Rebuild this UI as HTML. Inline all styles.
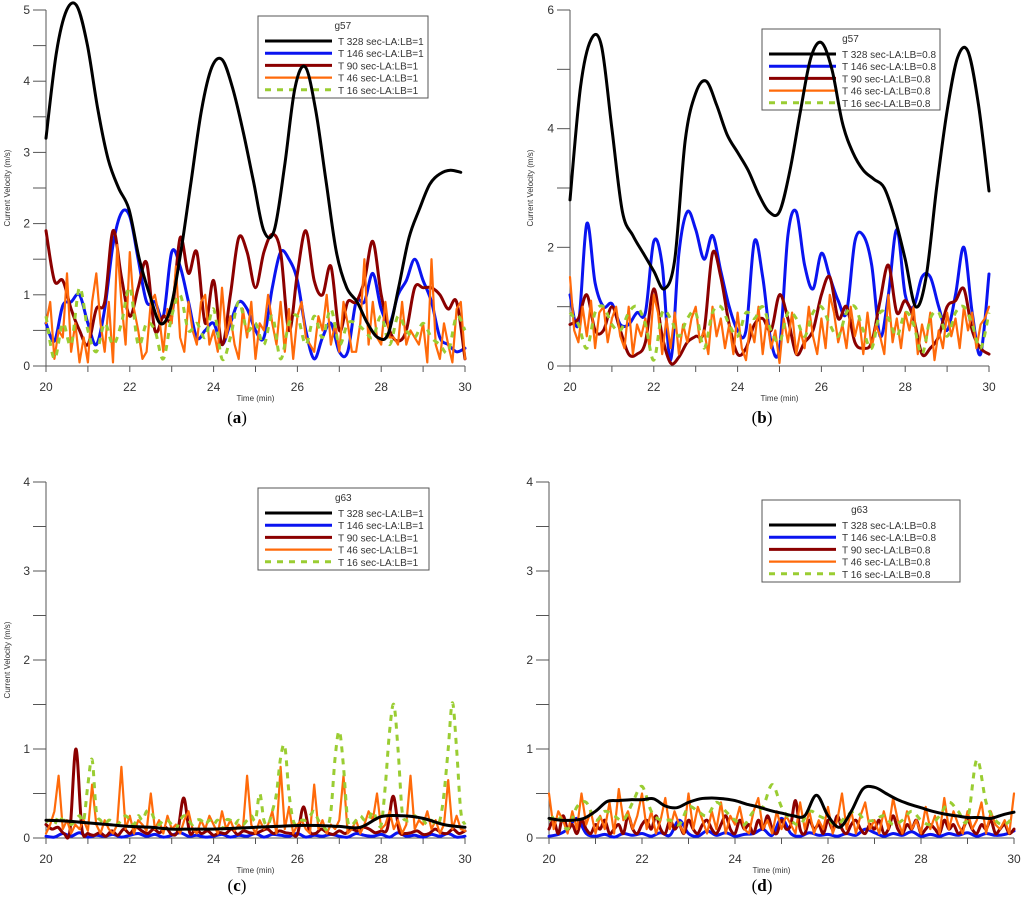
<!DOCTYPE html>
<html><head><meta charset="utf-8"><style>
html,body{margin:0;padding:0;background:#fff;}
svg{display:block;font-family:"Liberation Sans",sans-serif;}
</style></head><body>
<svg id="fig" width="1024" height="907" viewBox="0 0 1024 907"></svg>
<script>
// ---------- DATA ----------
const xTickLabels = [20, 22, 24, 26, 28, 30];
const seriesNames = ["T 328 sec", "T 146 sec", "T 90 sec", "T 46 sec", "T 16 sec"];

// Panel (a) g57 LA:LB=1
const aBlack = [3.2,4.4,5.0,5.05,4.5,3.6,2.9,2.5,2.2,1.5,1.0,0.6,0.8,1.6,2.6,3.6,4.2,4.3,3.9,3.3,2.6,1.9,1.9,2.8,3.9,4.2,3.6,2.6,1.6,1.1,0.9,0.6,0.4,0.45,1.1,1.8,2.2,2.55,2.7,2.75,2.72];
const aBlue = [0.6,0.35,0.85,0.9,1.0,0.6,0.3,0.8,1.7,2.15,2.1,1.5,0.9,0.9,0.7,1.6,1.4,0.9,0.4,0.5,0.6,0.3,0.6,0.9,0.8,0.5,0.4,1.1,1.6,1.5,1.2,0.5,0.1,0.4,0.6,0.2,0.2,0.9,0.9,1.3,0.8,0.6,1.0,1.2,1.5,1.2,0.9,0.4,0.3,0.2,0.25];
const aRed = [1.9,1.2,1.2,0.8,0.5,0.3,0.8,0.9,1.9,1.25,0.7,1.1,1.45,0.5,0.7,0.7,1.8,1.3,1.6,0.6,1.2,0.3,1.0,1.8,1.6,1.1,1.6,1.85,1.6,0.5,1.3,1.9,1.2,1.0,1.4,0.5,0.9,0.9,1.2,1.75,1.0,0.5,0.35,0.5,1.1,1.1,1.1,1.0,0.8,0.9,0.1];
const aOrange = [0.6,0.9,0.1,0.5,0.4,1.3,0.2,0.6,0.05,0.4,0.05,0.9,1.3,0.6,0.2,0.9,0.05,1.7,0.9,0.3,1.6,0.8,0.5,0.1,0.2,0.9,1.0,0.7,0.2,0.8,0.6,1.4,0.4,0.2,0.9,0.5,0.3,0.9,1.0,0.3,0.5,0.2,1.1,0.4,0.7,0.3,0.1,0.8,0.4,0.9,0.1,0.6,0.5,1.0,0.6,0.3,0.9,0.2,0.8,0.1,0.7,0.9,0.4,0.3,0.2,0.7,0.5,1.0,0.3,0.6,0.2,0.9,0.6,0.2,0.2,0.6,1.5,0.3,0.9,0.4,0.3,0.9,0.4,0.4,0.3,0.9,0.3,0.5,0.4,0.3,0.6,0.05,1.5,0.3,0.1,0.6,0.3,0.05,0.8,0.9,0.1];
const aGreen = [0.7,0.1,0.6,0.3,1.1,0.5,0.2,0.6,0.3,0.6,1.1,0.3,0.6,0.5,0.1,0.7,1.0,0.5,0.6,0.4,0.8,0.1,0.4,0.9,0.5,0.6,0.3,0.7,0.1,0.6,0.7,0.3,0.7,0.4,0.8,0.3,0.6,0.6,0.5,0.4,0.7,0.3,0.7,0.5,0.4,0.6,0.4,0.3,0.2,0.7,0.5];

// Panel (b) g57 LA:LB=0.8
const bBlack = [2.8,4.7,5.5,5.4,4.0,2.6,2.2,1.9,1.6,1.3,1.8,3.8,4.6,4.8,4.4,3.9,3.6,3.3,2.9,2.6,2.6,3.3,4.3,5.2,5.45,5.0,4.1,3.6,3.3,3.15,3.0,2.5,1.8,1.0,1.5,3.0,4.3,5.2,5.3,4.4,2.95];
const bBlue = [1.2,0.7,2.4,1.4,1.0,1.05,0.7,0.7,0.9,0.9,2.1,1.7,0.1,1.9,2.6,2.3,1.8,2.2,1.6,1.0,0.6,0.6,2.1,1.5,0.4,0.3,2.2,2.6,1.7,1.3,1.9,1.5,1.1,0.9,2.1,2.2,1.7,0.5,1.2,2.3,1.2,1.0,1.5,1.5,1.0,0.6,1.2,2.0,0.9,0.2,1.55];
const bRed = [0.7,0.8,1.2,0.6,0.6,1.0,0.6,0.2,0.2,0.4,1.3,0.5,0.05,0.15,0.4,0.5,0.6,1.9,1.5,0.7,0.2,0.3,0.7,0.8,0.6,1.2,0.8,0.2,0.4,0.6,1.2,1.5,0.8,1.0,0.4,0.3,0.4,1.1,1.7,0.9,1.1,0.8,0.2,0.3,0.5,1.0,1.1,1.3,0.6,0.3,0.2];
const bOrange = [1.5,0.6,0.4,1.0,0.5,1.1,0.3,0.9,1.0,0.4,0.8,1.0,0.5,0.3,1.0,0.2,0.7,0.5,0.8,0.3,1.2,0.9,0.2,0.8,0.3,0.9,0.2,0.7,0.4,0.8,1.0,0.4,0.6,0.2,1.0,0.5,0.8,0.3,0.7,0.2,0.9,0.3,0.1,0.7,0.4,1.0,0.2,0.8,0.3,0.6,0.05,0.8,0.4,0.9,0.2,0.6,0.3,1.0,0.5,0.2,0.8,0.3,1.2,0.9,0.4,0.7,0.3,1.0,0.5,0.8,0.2,0.9,0.3,0.7,0.5,0.2,1.2,0.4,0.8,0.3,0.9,0.6,1.0,0.2,0.7,0.4,0.9,0.1,0.6,0.3,0.9,0.5,0.8,0.3,1.0,0.6,0.9,0.3,0.7,0.8,1.0];
const bGreen = [0.9,0.7,0.3,0.9,1.0,0.7,0.6,0.9,1.0,0.7,0.1,0.9,0.8,0.5,0.8,0.9,0.3,0.9,1.0,0.7,0.5,0.9,0.8,1.0,0.6,0.4,0.9,0.8,0.5,0.9,1.0,0.7,0.5,0.9,1.0,0.6,0.3,0.9,0.8,0.5,0.9,0.7,0.2,0.8,0.9,0.5,0.9,1.0,0.7,0.3,0.9];

// Panel (c) g63 LA:LB=1
const cBlack = [0.2,0.19,0.17,0.15,0.13,0.12,0.1,0.1,0.1,0.11,0.12,0.13,0.14,0.14,0.13,0.12,0.24,0.25,0.22,0.15,0.12];
const cBlue = [0.02,0.01,0.05,0.02,0.06,0.01,0.03,0.02,0.04,0.01,0.03,0.05,0.02,0.04,0.01,0.03,0.06,0.02,0.03,0.01,0.02,0.04,0.01,0.03,0.02,0.05,0.01,0.04,0.03,0.02,0.05,0.01,0.03,0.02,0.04,0.02,0.01,0.05,0.03,0.02,0.04,0.01,0.06,0.02,0.03,0.01,0.04,0.02,0.05,0.01,0.02];
const cRed = [0.15,0.1,0.12,0.05,0.08,1.0,0.1,0.05,0.03,0.06,0.02,0.08,0.03,0.1,0.05,0.12,0.08,0.05,0.1,0.06,0.12,0.04,0.08,0.45,0.06,0.1,0.05,0.08,0.03,0.06,0.05,0.1,0.04,0.08,0.06,0.05,0.08,0.1,0.05,0.08,0.06,0.05,0.04,0.35,0.08,0.05,0.1,0.06,0.04,0.08,0.05,0.1,0.08,0.12,0.1,0.06,0.08,0.1,0.47,0.08,0.05,0.06,0.08,0.04,0.05,0.1,0.06,0.05,0.1,0.05,0.08];
const cOrange = [0.05,0.15,0.3,0.7,0.1,0.2,0.05,0.15,0.1,0.2,0.08,0.6,0.15,0.05,0.2,0.1,0.05,0.15,0.8,0.1,0.25,0.05,0.2,0.15,0.08,0.5,0.1,0.2,0.05,0.25,0.1,0.15,0.05,0.2,0.3,0.1,0.05,0.2,0.1,0.25,0.15,0.05,0.3,0.1,0.2,0.08,0.15,0.1,0.7,0.15,0.05,0.2,0.1,0.15,0.3,0.05,0.8,0.1,0.35,0.05,0.15,0.2,0.1,0.05,0.6,0.1,0.2,0.05,0.15,0.1,0.2,0.7,0.05,0.1,0.2,0.05,0.15,0.3,0.2,0.5,0.1,0.15,0.3,0.1,0.2,0.05,0.15,0.7,0.1,0.2,0.15,0.3,0.1,0.2,0.05,0.15,0.65,0.1,0.25,0.1,0.08];
const cGreen = [0.18,0.2,0.15,0.25,0.2,0.2,0.15,0.2,0.25,0.2,0.6,0.88,0.3,0.2,0.15,0.2,0.18,0.15,0.2,0.25,0.2,0.15,0.25,0.2,0.3,0.3,0.2,0.15,0.2,0.2,0.15,0.1,0.2,0.25,0.2,0.15,0.2,0.2,0.15,0.2,0.15,0.2,0.1,0.2,0.2,0.15,0.2,0.15,0.2,0.25,0.2,0.5,0.2,0.15,0.3,0.5,0.9,1.03,0.5,0.2,0.15,0.2,0.2,0.25,0.3,0.2,0.15,0.1,0.3,0.9,1.2,0.8,0.2,0.15,0.2,0.25,0.2,0.2,0.3,0.2,0.15,0.6,1.2,1.5,1.0,0.3,0.2,0.2,0.25,0.2,0.2,0.15,0.2,0.15,0.2,0.5,1.0,1.52,1.0,0.3,0.15];

// Panel (d) g63 LA:LB=0.8
const dBlack = [0.22,0.2,0.2,0.22,0.3,0.41,0.42,0.43,0.43,0.44,0.36,0.34,0.4,0.44,0.45,0.44,0.42,0.38,0.35,0.31,0.28,0.25,0.25,0.48,0.25,0.12,0.3,0.55,0.57,0.5,0.43,0.38,0.34,0.3,0.27,0.25,0.23,0.23,0.22,0.26,0.29];
const dBlue = [0.02,0.04,0.1,0.22,0.05,0.02,0.04,0.01,0.05,0.03,0.05,0.02,0.06,0.03,0.2,0.05,0.02,0.08,0.03,0.06,0.02,0.04,0.05,0.1,0.03,0.22,0.05,0.02,0.06,0.03,0.04,0.02,0.05,0.03,0.1,0.06,0.02,0.05,0.03,0.07,0.02,0.04,0.02,0.05,0.03,0.06,0.02,0.05,0.03,0.04,0.08];
const dRed = [0.1,0.2,0.05,0.25,0.1,0.15,0.05,0.2,0.1,0.05,0.15,0.1,0.2,0.05,0.1,0.15,0.05,0.25,0.1,0.05,0.15,0.2,0.1,0.25,0.1,0.05,0.2,0.1,0.15,0.05,0.2,0.1,0.05,0.15,0.2,0.1,0.05,0.15,0.25,0.1,0.05,0.2,0.1,0.15,0.05,0.2,0.1,0.25,0.1,0.05,0.2,0.1,0.15,0.42,0.1,0.05,0.2,0.1,0.15,0.05,0.2,0.1,0.25,0.1,0.05,0.15,0.2,0.1,0.05,0.15,0.1,0.2,0.05,0.1,0.25,0.1,0.05,0.15,0.1,0.2,0.05,0.1,0.15,0.1,0.05,0.2,0.1,0.15,0.05,0.1,0.2,0.1,0.05,0.15,0.1,0.2,0.05,0.1,0.15,0.05,0.1];
const dOrange = [0.5,0.1,0.3,0.2,0.05,0.3,0.1,0.5,0.15,0.3,0.05,0.25,0.1,0.4,0.05,0.55,0.2,0.3,0.1,0.25,0.5,0.1,0.3,0.05,0.2,0.45,0.1,0.3,0.15,0.05,0.5,0.1,0.35,0.2,0.05,0.3,0.1,0.4,0.05,0.25,0.15,0.35,0.1,0.05,0.3,0.45,0.1,0.2,0.05,0.3,0.1,0.25,0.15,0.05,0.4,0.1,0.3,0.05,0.2,0.1,0.35,0.05,0.2,0.5,0.1,0.3,0.05,0.25,0.4,0.1,0.2,0.05,0.3,0.1,0.45,0.2,0.05,0.3,0.1,0.2,0.05,0.35,0.1,0.25,0.05,0.45,0.1,0.3,0.15,0.05,0.3,0.1,0.2,0.4,0.05,0.3,0.15,0.1,0.2,0.05,0.5];
const dGreen = [0.2,0.25,0.1,0.35,0.4,0.2,0.3,0.25,0.2,0.4,0.58,0.3,0.2,0.2,0.15,0.35,0.3,0.25,0.4,0.3,0.2,0.15,0.3,0.35,0.6,0.35,0.2,0.15,0.3,0.25,0.2,0.15,0.25,0.3,0.2,0.2,0.25,0.15,0.2,0.3,0.2,0.15,0.25,0.4,0.3,0.2,0.88,0.4,0.2,0.15,0.25];

// ---------- DRAW ----------
const svg = document.getElementById('fig');
const NS = 'http://www.w3.org/2000/svg';
function mk(tag, attrs, parent){ const e=document.createElementNS(NS,tag); for(const k in attrs) e.setAttribute(k,attrs[k]); (parent||svg).appendChild(e); return e; }
function smoothPath(P){
  let d='M'+P[0][0].toFixed(1)+','+P[0][1].toFixed(1);
  for(let i=0;i<P.length-1;i++){
    const p0=P[Math.max(0,i-1)], p1=P[i], p2=P[i+1], p3=P[Math.min(P.length-1,i+2)];
    const c1x=p1[0]+(p2[0]-p0[0])/6, c1y=p1[1]+(p2[1]-p0[1])/6;
    const c2x=p2[0]-(p3[0]-p1[0])/6, c2y=p2[1]-(p3[1]-p1[1])/6;
    d+=` C${c1x.toFixed(1)},${c1y.toFixed(1)} ${c2x.toFixed(1)},${c2y.toFixed(1)} ${p2[0].toFixed(1)},${p2[1].toFixed(1)}`;
  }
  return d;
}

const panels = [
  {id:'a', x0:46, x1:465, y0:366, y1:10, ymax:5, minor:0.5, major:1, legend:[258,16,428,98], title:'g57', ratio:'1',
   data:[aBlack,aBlue,aRed,aOrange,aGreen], blackEnd:29.9, cap:[237,423], ylab:10},
  {id:'b', x0:570, x1:989, y0:366, y1:10, ymax:6, minor:1, major:2, legend:[762,29,940,110], title:'g57', ratio:'0.8',
   data:[bBlack,bBlue,bRed,bOrange,bGreen], blackEnd:30, cap:[762,423], ylab:533},
  {id:'c', x0:46, x1:465, y0:838, y1:482, ymax:4, minor:0.5, major:1, legend:[258,488,429,570], title:'g63', ratio:'1',
   data:[cBlack,cBlue,cRed,cOrange,cGreen], blackEnd:30, cap:[237,891], ylab:10},
  {id:'d', x0:549, x1:1014, y0:838, y1:482, ymax:4, minor:0.5, major:1, legend:[762,500,960,582], title:'g63', ratio:'0.8',
   data:[dBlack,dBlue,dRed,dOrange,dGreen], blackEnd:30, cap:[762,891], ylab:null}
];
const colors = ['#000000','#0a14f0','#8b0000','#ff6a0a','#9acd32'];
const widths = [3,3,3,2.2,3];
const keys = ['black','blue','darkred','orange','green'];

panels.forEach(p=>{
  const g = mk('g',{});
  
  
  const X = t => p.x0 + (t-20)/10*(p.x1-p.x0);
  const Y = v => p.y0 - v/p.ymax*(p.y0-p.y1);
  // legend (drawn first: curves pass over it)
  const [lx,ly,rx,by]=p.legend;
  const lg=mk('g',{},g);
  
  
  mk('rect',{x:lx,y:ly,width:rx-lx,height:by-ly,fill:'#fff',stroke:'#555','stroke-width':1},lg);
  const tt=mk('text',{x:lx+(rx-lx)*0.45,y:ly+13,'font-size':10,fill:'#333'},lg);
  tt.textContent=p.title;
  
  
  for(let i=0;i<5;i++){
    const yy=ly+25+i*12.2;
    const ln=mk('line',{x1:lx+7,y1:yy,x2:lx+74,y2:yy,stroke:colors[i],'stroke-width':widths[i]},lg);
    if(i===4) ln.setAttribute('stroke-dasharray','6 6');
    
    
    const tx=mk('text',{x:lx+80,y:yy+4,'font-size':10,fill:'#333'},lg);
    tx.textContent=seriesNames[i]+'-LA:LB='+p.ratio;
    
    
  }
  // axes
  const ax = mk('g',{stroke:'#555','stroke-width':1},g);
  
  
  mk('line',{x1:X(20)-13,y1:p.y0,x2:p.x1,y2:p.y0},ax);
  mk('line',{x1:p.x0,y1:p.y0,x2:p.x0,y2:p.y1},ax);
  for(let v=0; v<=p.ymax+1e-9; v+=p.minor){
    mk('line',{x1:p.x0-13,y1:Y(v),x2:p.x0,y2:Y(v)},ax);
    if(Math.abs(v/p.major-Math.round(v/p.major))<1e-6){
      const t=mk('text',{x:p.x0-16,y:Y(v)+4,'text-anchor':'end','font-size':12,fill:'#333'},g);
      t.textContent=String(Math.round(v));
      
      
    }
  }
  for(let t=20;t<=30;t++) mk('line',{x1:X(t),y1:p.y0,x2:X(t),y2:p.y0+6},ax);
  xTickLabels.forEach(v=>{
    const t=mk('text',{x:X(v),y:p.y0+25,'text-anchor':'middle','font-size':12,fill:'#333'},g);
    t.textContent=String(v);
    
    
  });
  const xt=mk('text',{x:(X(20)+X(30))/2+(p.id==='d'?-10:0),y:p.y0+35,'text-anchor':'middle','font-size':8,fill:'#333'},g);
  xt.textContent='Time (min)';
  
  
  if(p.ylab!==null){
    const cy=(p.y0+p.y1)/2;
    const yt=mk('text',{x:p.ylab,y:cy,'text-anchor':'middle','font-size':8,fill:'#333',transform:`rotate(-90 ${p.ylab} ${cy})`},g);
    yt.textContent='Current Velocity (m/s)';
    
    
  }
  // series
  const drawOrder=[1,2,3,4,0];
  drawOrder.forEach(si=>{
    const arr=p.data[si];
    const end = si===0 ? p.blackEnd : 30;
    const P = arr.map((v,i)=> [X(20+(end-20)*i/(arr.length-1)), Y(v)]);
    const el=mk('path',{d:(si===3?'M'+P.map(q=>q[0].toFixed(1)+','+q[1].toFixed(1)).join(' L'):smoothPath(P)),fill:'none',stroke:colors[si],'stroke-width':widths[si],'stroke-linejoin':'round','stroke-linecap':si===4?'butt':'round'},g);
    if(si===4) el.setAttribute('stroke-dasharray','6 6');
    
    
  });
  // caption
  const cap=mk('text',{x:p.cap[0],y:p.cap[1],'text-anchor':'middle','font-size':17,fill:'#000','font-family':'Liberation Serif, serif'},g);
  cap.innerHTML='(<tspan font-weight="bold">'+p.id+'</tspan>)';
  
  
});
</script>
</body></html>
